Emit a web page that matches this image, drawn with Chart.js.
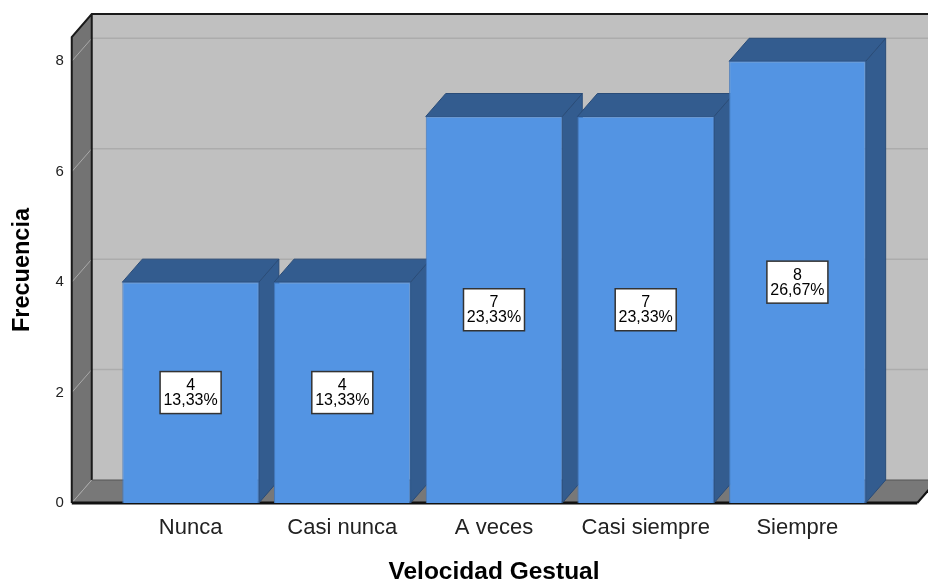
<!DOCTYPE html>
<html>
<head>
<meta charset="utf-8">
<script src="https://cdn.jsdelivr.net/npm/chart.js@4.4.1/dist/chart.umd.min.js"></script>
<style>
html,body{margin:0;padding:0;background:#fff;}
#wrap{width:928px;height:583px;}
</style>
</head>
<body>
<div id="wrap"><canvas id="c" width="928" height="583"></canvas></div>
<script>
const categories = ['Nunca', 'Casi nunca', 'A veces', 'Casi siempre', 'Siempre'];
const frecuencias = [4, 4, 7, 7, 8];
const porcentajes = ['13,33%', '13,33%', '23,33%', '23,33%', '26,67%'];
const yTicks = [0, 2, 4, 6, 8];
const xTitle = 'Velocidad Gestual';
const yTitle = 'Frecuencia';

const FONT = '"Liberation Sans", Arial, sans-serif';
const DX = 20, DY = -23;          // depth offset of the 3D box
const WALL_L = 43, WALL_R = 44;   // front plane extends past the category area

const box3d = {
  id: 'box3d',
  beforeDatasetsDraw(chart) {
    const ctx = chart.ctx;
    const a = chart.chartArea;
    const y = chart.scales.y;
    const L = a.left - WALL_L, R = a.right + WALL_R, T = a.top, B = a.bottom;
    ctx.save();
    // back wall
    ctx.fillStyle = '#c0c0c0';
    ctx.fillRect(L + DX, T + DY, (R - L) + 40, B - T);
    // left wall
    ctx.fillStyle = '#737373';
    ctx.beginPath();
    ctx.moveTo(L, T); ctx.lineTo(L + DX, T + DY); ctx.lineTo(L + DX, B + DY); ctx.lineTo(L, B);
    ctx.closePath(); ctx.fill();
    // floor
    ctx.fillStyle = '#787878';
    ctx.beginPath();
    ctx.moveTo(L, B); ctx.lineTo(L + DX, B + DY); ctx.lineTo(R + DX, B + DY); ctx.lineTo(R, B);
    ctx.closePath(); ctx.fill();
    // grid lines
    yTicks.forEach(v => {
      const py = y.getPixelForValue(v);
      if (v > 0) {
        ctx.strokeStyle = '#acacac'; ctx.lineWidth = 1.5;
        ctx.beginPath(); ctx.moveTo(L + DX, py + DY); ctx.lineTo(R + DX + 30, py + DY); ctx.stroke();
      }
      ctx.strokeStyle = '#a9a9a9'; ctx.lineWidth = 1;
      ctx.beginPath(); ctx.moveTo(L, py); ctx.lineTo(L + DX, py + DY); ctx.stroke();
    });
    // edges
    ctx.strokeStyle = '#1a1a1a';
    ctx.lineWidth = 2;
    ctx.beginPath();
    ctx.moveTo(L, B); ctx.lineTo(L, T); ctx.lineTo(L + DX, T + DY); ctx.lineTo(R + DX + 40, T + DY);
    ctx.moveTo(L + DX, T + DY); ctx.lineTo(L + DX, B + DY);
    ctx.stroke();
    ctx.lineWidth = 1;
    ctx.strokeStyle = '#555';
    ctx.beginPath();
    ctx.moveTo(L + DX, B + DY); ctx.lineTo(R + DX, B + DY);
    ctx.stroke();
    ctx.strokeStyle = '#111';
    ctx.lineWidth = 2;
    ctx.beginPath();
    ctx.moveTo(R + DX, B + DY); ctx.lineTo(R, B);
    ctx.stroke();
    ctx.lineWidth = 3;
    ctx.beginPath();
    ctx.moveTo(L, B); ctx.lineTo(R, B);
    ctx.stroke();

    // bar sides and tops
    const meta = chart.getDatasetMeta(0);
    meta.data.forEach(bar => {
      const p = bar.getProps(['x', 'y', 'base', 'width'], true);
      const x1 = p.x - p.width / 2, x2 = p.x + p.width / 2, top = p.y, base = p.base;
      ctx.fillStyle = '#335c8f';
      ctx.strokeStyle = '#2a4c78';
      ctx.lineWidth = 1;
      ctx.beginPath();
      ctx.moveTo(x2, top); ctx.lineTo(x2 + DX, top + DY); ctx.lineTo(x2 + DX, base + DY); ctx.lineTo(x2, base);
      ctx.closePath(); ctx.fill(); ctx.stroke();
      ctx.beginPath();
      ctx.moveTo(x1, top); ctx.lineTo(x1 + DX, top + DY); ctx.lineTo(x2 + DX, top + DY); ctx.lineTo(x2, top);
      ctx.closePath(); ctx.fill(); ctx.stroke();
    });
    ctx.restore();
  },
  afterDatasetsDraw(chart) {
    const ctx = chart.ctx;
    const y = chart.scales.y;
    const meta = chart.getDatasetMeta(0);
    ctx.save();
    meta.data.forEach((bar, i) => {
      const cx = bar.x;
      const cy = y.getPixelForValue(frecuencias[i] / 2);
      const w = 61, h = 42;
      ctx.fillStyle = '#ffffff';
      ctx.fillRect(cx - w / 2, cy - h / 2, w, h);
      ctx.strokeStyle = '#333';
      ctx.lineWidth = 1.5;
      ctx.strokeRect(cx - w / 2, cy - h / 2, w, h);
      ctx.fillStyle = '#000';
      ctx.font = '16px ' + FONT;
      ctx.textAlign = 'center';
      ctx.textBaseline = 'middle';
      ctx.fillText(String(frecuencias[i]), cx, cy - 7);
      ctx.fillText(porcentajes[i], cx, cy + 8);
    });
    ctx.restore();
  }
};

new Chart(document.getElementById('c'), {
  type: 'bar',
  data: {
    labels: categories,
    datasets: [{
      data: frecuencias,
      backgroundColor: '#5394e3',
      borderColor: '#4479bd',
      borderWidth: 1,
      categoryPercentage: 1,
      barPercentage: 0.9
    }]
  },
  options: {
    responsive: false,
    animation: false,
    events: [],
    layout: { padding: { left: 0, right: 54.75, top: 37, bottom: 0 } },
    plugins: { legend: { display: false }, tooltip: { enabled: false } },
    scales: {
      x: {
        grid: { display: false, drawTicks: false },
        border: { display: false },
        ticks: { font: { family: FONT, size: 22 }, color: '#222', padding: 12 },
        title: { display: true, text: xTitle, font: { family: FONT, size: 24.5, weight: 'bold', lineHeight: 0.9 }, color: '#000', padding: { top: 0, bottom: 0 } },
        afterFit(s) { s.height = 80; s.paddingLeft = 0; s.paddingRight = 0; }
      },
      y: {
        min: 0,
        max: 8.44,
        grid: { display: false, drawTicks: false },
        border: { display: false },
        afterBuildTicks(s) { s.ticks = yTicks.map(v => ({ value: v })); },
        ticks: { font: { family: FONT, size: 15 }, color: '#222', padding: 51 },
        title: { display: true, text: yTitle, font: { family: FONT, size: 23.5, weight: 'bold', lineHeight: 1.2 }, color: '#000', padding: { top: 8, bottom: 0 } },
        afterFit(s) { s.width = 114.75; s.paddingTop = 0; s.paddingBottom = 0; }
      }
    }
  },
  plugins: [box3d]
});
</script>
</body>
</html>
